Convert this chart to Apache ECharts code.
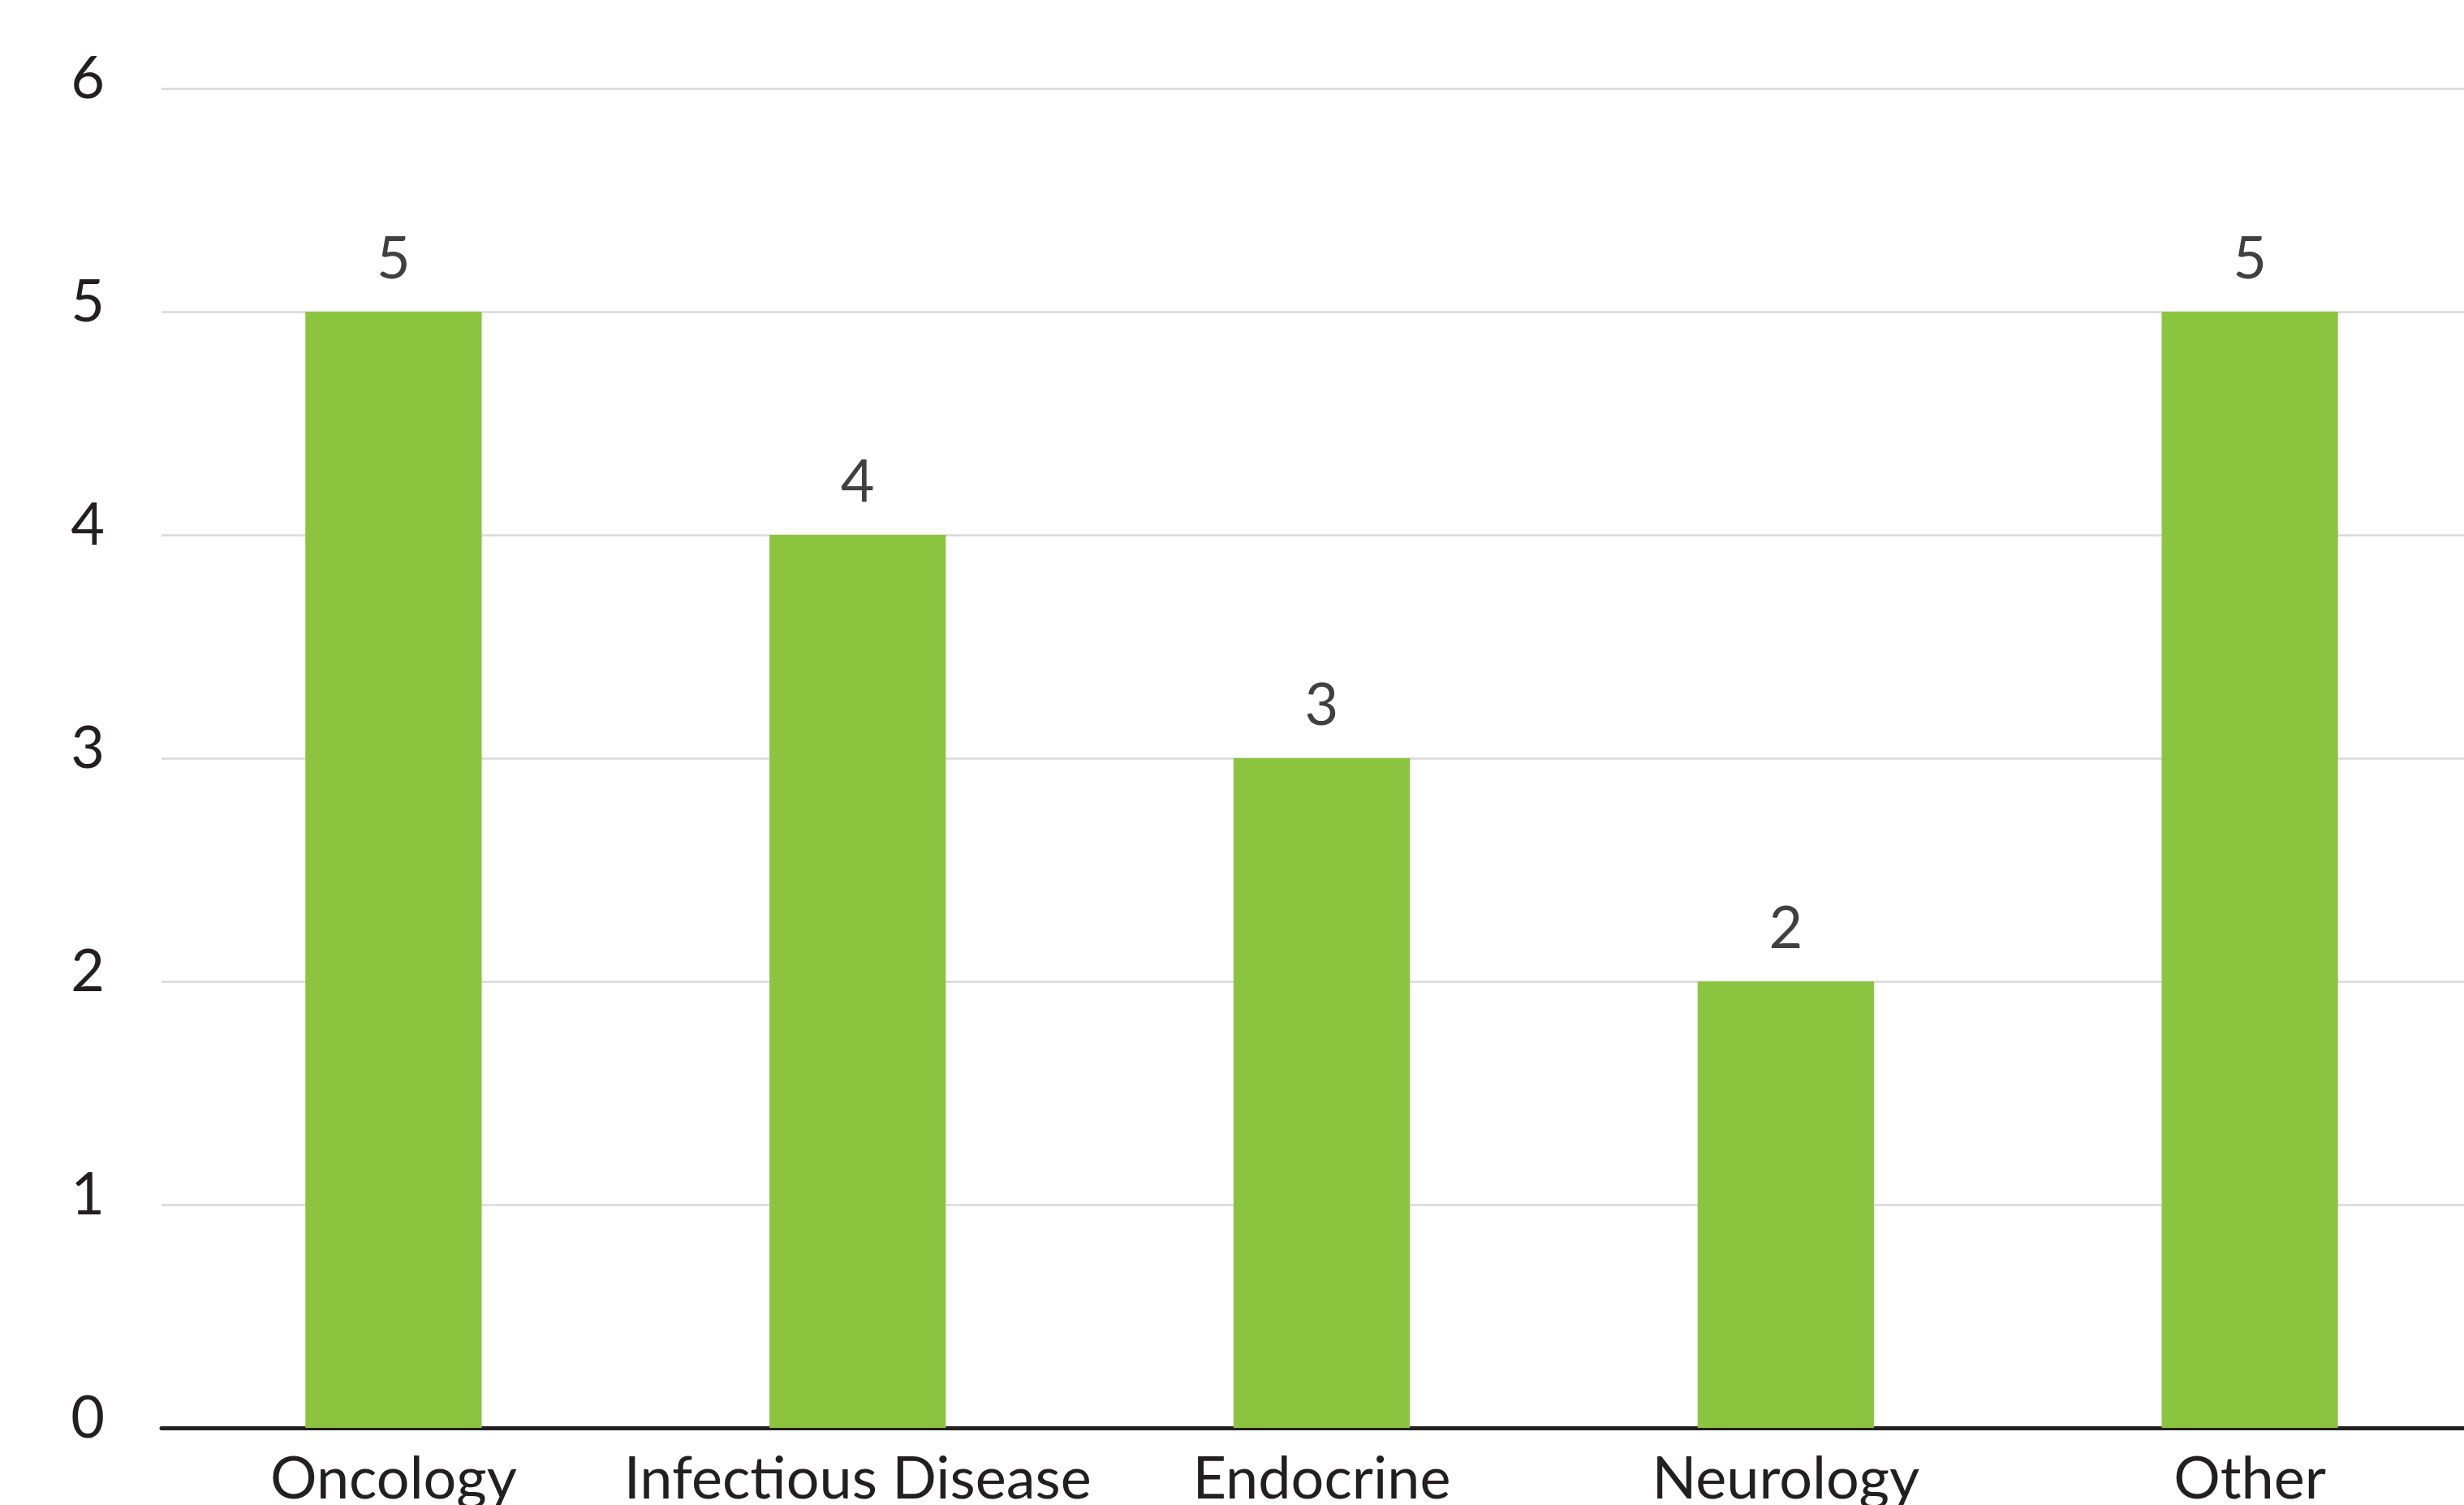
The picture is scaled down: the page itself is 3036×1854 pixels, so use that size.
<!DOCTYPE html>
<html>
<head>
<meta charset="utf-8">
<title>Therapeutic areas</title>
<script src="https://cdn.jsdelivr.net/npm/echarts@6/dist/echarts.min.js"></script>
<style>
  html, body { margin: 0; padding: 0; background: #ffffff; overflow: hidden; }
  #chart { width: 3036px; height: 1854px; }
</style>
</head>
<body>
<div id="chart"></div>
<script>
// Number of items per therapeutic area
const categories = ['Oncology', 'Infectious Disease', 'Endocrine', 'Neurology', 'Other'];
const counts = [5, 4, 3, 2, 5];
const yTicks = { min: 0, max: 6, interval: 1 };

const FONT = 'Lato, "Open Sans", "Noto Sans", sans-serif';

const chart = echarts.init(document.getElementById('chart'), null, { renderer: 'canvas' });

chart.setOption({
  backgroundColor: '#ffffff',
  animation: false,
  grid: {
    left: 199,
    width: 2859,
    top: 109,
    height: 1650,
    containLabel: false,
    outerBoundsMode: 'none'
  },
  xAxis: {
    type: 'category',
    data: categories,
    axisLine: { show: true, lineStyle: { color: '#231f20', width: 5 } },
    axisTick: { show: false },
    axisLabel: {
      color: '#231f20',
      fontFamily: FONT,
      fontSize: 72,
      margin: 28,
      interval: 0
    },
    splitLine: { show: false }
  },
  yAxis: {
    type: 'value',
    min: yTicks.min,
    max: yTicks.max,
    interval: yTicks.interval,
    axisLine: { show: false },
    axisTick: { show: false },
    axisLabel: {
      color: '#231f20',
      fontFamily: FONT,
      fontSize: 72,
      margin: 70,
      verticalAlign: 'bottom',
      lineHeight: 22
    },
    splitLine: { show: true, lineStyle: { color: '#d9d9d9', width: 2.5 } }
  },
  series: [{
    type: 'bar',
    data: counts,
    barWidth: '38%',
    itemStyle: { color: '#8bc43f' },
    label: {
      show: true,
      position: 'top',
      distance: 28,
      color: '#404040',
      fontFamily: FONT,
      fontSize: 72
    }
  }]
});
</script>
</body>
</html>
